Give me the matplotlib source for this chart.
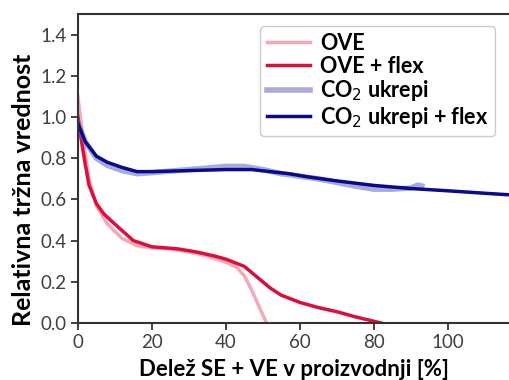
import numpy as np
import matplotlib.pyplot as plt

# podatki odčitani s slike
x_ove = [0, 1, 2, 3, 5, 8, 12, 16, 20, 25, 30, 35, 40, 43, 45, 47, 49, 51]
y_ove = [1.10, 0.95, 0.82, 0.70, 0.57, 0.48, 0.41, 0.375, 0.365, 0.36, 0.345, 0.325, 0.295, 0.27, 0.23, 0.16, 0.08, 0.0]

x_ove_flex = [0, 1, 2, 3, 5, 7, 10, 15, 20, 27, 32, 37, 40, 45, 48, 52, 55, 60, 65, 70, 75, 82]
y_ove_flex = [1.00, 0.88, 0.77, 0.67, 0.58, 0.53, 0.48, 0.40, 0.37, 0.36, 0.345, 0.325, 0.31, 0.275, 0.23, 0.17, 0.135, 0.10, 0.075, 0.055, 0.03, 0.0]

x_co2 = [0, 2, 5, 8, 12, 16, 20, 30, 40, 45, 50, 55, 65, 75, 80, 85, 90, 92, 93]
y_co2 = [0.97, 0.88, 0.80, 0.765, 0.74, 0.725, 0.73, 0.745, 0.76, 0.76, 0.745, 0.725, 0.70, 0.665, 0.65, 0.65, 0.655, 0.67, 0.665]

x_co2_flex = [0, 2, 5, 8, 12, 16, 20, 30, 40, 47, 52, 57, 62, 70, 80, 90, 100, 110, 117]
y_co2_flex = [0.97, 0.88, 0.81, 0.78, 0.755, 0.735, 0.735, 0.74, 0.745, 0.745, 0.735, 0.725, 0.71, 0.69, 0.668, 0.653, 0.642, 0.63, 0.622]

xticks = [0, 20, 40, 60, 80, 100]
yticks = [0.0, 0.2, 0.4, 0.6, 0.8, 1.0, 1.2, 1.4]

bold_font = {'family': 'Lato', 'weight': 'bold'}

fig = plt.figure(figsize=(5.09, 3.80), dpi=100)
ax = fig.add_axes([0.153, 0.15, 0.85, 0.813])

ax.plot(x_ove, y_ove, color='#f08ca0', lw=2.5, alpha=0.75, label='OVE')
ax.plot(x_ove_flex, y_ove_flex, color='#dc0f3c', lw=2.5, label='OVE + flex')
ax.plot(x_co2, y_co2, color='#6f73c4', lw=4, alpha=0.6, label='CO$_2$ ukrepi')
ax.plot(x_co2_flex, y_co2_flex, color='#0a0a8c', lw=2.5, label='CO$_2$ ukrepi + flex')

ax.set_xlim(0, 117)
ax.set_ylim(0, 1.5)
ax.set_xticks(xticks)
ax.set_yticks(yticks)
ax.tick_params(colors='#333333', width=1.3, length=5, pad=3)
for lab in ax.get_xticklabels() + ax.get_yticklabels():
    lab.set_color('#404040')
    lab.set_family('Lato')
    lab.set_fontsize(13.5)
for s in ax.spines.values():
    s.set_linewidth(1.5)
    s.set_color('#333333')

ax.set_xlabel('Delež SE + VE v proizvodnji [%]', fontsize=16, labelpad=6, **bold_font)
ax.set_ylabel('Relativna tržna vrednost', fontsize=18, **bold_font)
ax.yaxis.set_label_coords(-0.098, 0.43)

leg = ax.legend(loc='upper right', bbox_to_anchor=(0.99, 0.995),
                prop={'family': 'Lato', 'weight': 'bold', 'size': 15.5},
                handlelength=2.0, labelspacing=0.08, borderpad=0.3, handletextpad=0.5,
                framealpha=1)
leg.get_frame().set_edgecolor('#cccccc')

plt.savefig('out.png', dpi=100)
